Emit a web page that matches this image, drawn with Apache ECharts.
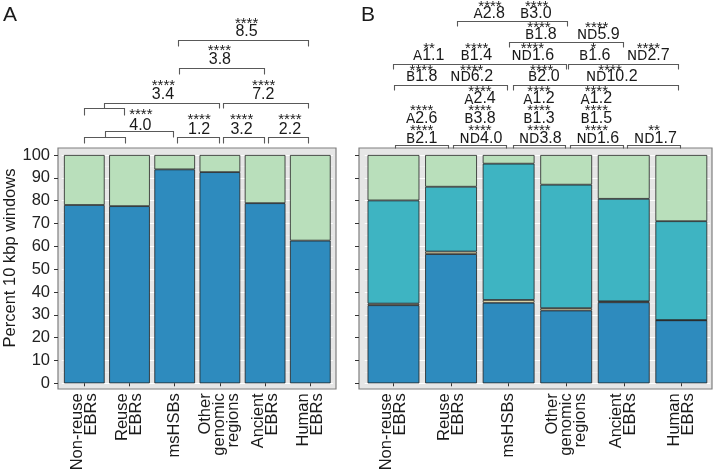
<!DOCTYPE html>
<html><head><meta charset="utf-8">
<script src="https://cdn.jsdelivr.net/npm/echarts@6/dist/echarts.min.js"></script>
<style>html,body{margin:0;padding:0;background:#fff}#c{width:714px;height:472px}</style>
</head><body><div id="c"></div>
<script>
// ---------- DATA ----------
const categories = ['Non-reuse\nEBRs', 'Reuse\nEBRs', 'msHSBs', 'Other\ngenomic\nregions', 'Ancient\nEBRs', 'Human\nEBRs'];
// Panel A
const aBlue  = [78.1, 77.6, 93.7, 92.5, 78.9, 62.5];
const aGreen = [21.9, 22.4, 6.3, 7.5, 21.1, 37.5];
// Panel B
const bBlue  = [34.2, 56.6, 35.3, 31.9, 35.5, 27.6];
const bCream = [0.7, 1.1, 1.2, 1.0, 0.4, 0.1];
const bTeal  = [45.2, 28.4, 59.7, 54.1, 44.9, 43.3];
const bGreen = [19.9, 13.9, 3.8, 13.0, 19.2, 29.0];
// Annotation texts
const labelsA = ['8.5', '3.8', '3.4', '7.2', '4.0', '1.2', '3.2', '2.2'];
const starsA  = ['****', '****', '****', '****', '****', '****', '****', '****'];
const labelsB = ['A2.8', 'B3.0', 'B1.8', 'ND5.9', 'A1.1', 'B1.4', 'ND1.6', 'B1.6', 'ND2.7',
                 'B1.8', 'ND6.2', 'B2.0', 'ND10.2', 'A2.4', 'A1.2', 'A1.2',
                 'A2.6', 'B3.8', 'B1.3', 'B1.5', 'B2.1', 'ND4.0', 'ND3.8', 'ND1.6', 'ND1.7'];
const starsB  = ['****', '****', '****', '****', '**', '****', '****', '*', '****',
                 '****', '****', '****', '****', '****', '****', '****',
                 '****', '****', '****', '****', '****', '****', '****', '****', '**'];

// ---------- LAYOUT (annotation placement: category index, axis value) ----------
const linesA = [
  [[0, 105.1], [0, 107.9], [0.9, 107.9], [0.9, 105.1]],
  [[0.45, 107.9], [0.45, 110.6], [1.97, 110.6], [1.97, 107.9]],
  [[2.06, 105.1], [2.06, 107.9], [2.97, 107.9], [2.97, 105.1]],
  [[3.06, 105.1], [3.06, 107.9], [3.97, 107.9], [3.97, 105.1]],
  [[4.06, 105.1], [4.06, 107.9], [4.96, 107.9], [4.96, 105.1]],
  [[0, 117.5], [0, 120.45], [0.88, 120.45], [0.88, 117.5]],
  [[0.44, 120.45], [0.44, 122.9], [2.98, 122.9], [2.98, 120.45]],
  [[3.06, 120.45], [3.06, 122.9], [4.96, 122.9], [4.96, 120.45]],
  [[2.1, 135.5], [2.1, 138.2], [3.97, 138.2], [3.97, 135.5]],
  [[2.08, 147.9], [2.08, 150.4], [4.96, 150.4], [4.96, 147.9]]
];
const labelPosA = [[3.59, 154.0], [3.0, 142.0], [1.74, 126.3], [3.96, 126.3], [1.24, 112.8], [2.54, 111.3], [3.48, 111.3], [4.55, 111.3]];
const starPosA  = [[3.59, 158.8], [2.99, 147.0], [1.75, 131.4], [3.97, 131.4], [1.25, 118.7], [2.54, 116.6], [3.48, 116.6], [4.55, 116.6]];

const linesB = [
  [[0.03, 103.1], [0.03, 104.4], [0.95, 104.4], [0.95, 103.1]],
  [[1.04, 103.1], [1.04, 104.4], [1.95, 104.4], [1.95, 103.1]],
  [[2.07, 103.1], [2.07, 104.4], [2.98, 104.4], [2.98, 103.1]],
  [[3.07, 103.1], [3.07, 104.4], [3.98, 104.4], [3.98, 103.1]],
  [[4.06, 103.1], [4.06, 104.4], [4.98, 104.4], [4.98, 103.1]],
  [[0.01, 128.5], [0.01, 130.5], [1.97, 130.5], [1.97, 128.5]],
  [[2.07, 128.5], [2.07, 130.5], [4.95, 130.5], [4.95, 128.5]],
  [[0.0, 137.7], [0.0, 139.7], [3.0, 139.7], [3.0, 137.7]],
  [[3.04, 137.7], [3.04, 139.7], [4.95, 139.7], [4.95, 137.7]],
  [[2.01, 147.2], [2.01, 149.6], [3.99, 149.6], [3.99, 147.2]],
  [[1.1, 156.5], [1.1, 158.8], [3.01, 158.8], [3.01, 156.5]]
];
const labelPosB = [
  [1.663, 162.1], [2.472, 162.1],
  [2.559, 152.9], [3.558, 152.9],
  [0.612, 143.5], [1.439, 143.5], [2.42, 143.5], [3.496, 143.5], [4.427, 143.5],
  [0.49, 134.3], [1.359, 134.3], [2.611, 134.3], [3.791, 134.3],
  [1.503, 124.5], [2.528, 124.5], [3.524, 124.5],
  [0.49, 115.8], [1.503, 115.8], [2.528, 115.8], [3.524, 115.8],
  [0.49, 107.1], [1.52, 107.1], [2.55, 107.1], [3.55, 107.1], [4.55, 107.1]
];
const starPosB = [
  [1.677, 166.1], [2.488, 166.1],
  [2.528, 157.2], [3.531, 157.2],
  [0.617, 147.8], [1.446, 147.8], [2.412, 147.8], [3.472, 147.8], [4.427, 147.8],
  [0.483, 138.2], [1.359, 138.2], [2.575, 138.2], [3.762, 138.2],
  [1.503, 129.1], [2.528, 129.1], [3.524, 129.1],
  [0.49, 120.5], [1.503, 120.5], [2.528, 120.5], [3.524, 120.5],
  [0.49, 112.0], [1.503, 112.0], [2.528, 112.0], [3.524, 112.0], [4.526, 112.0]
];

// ---------- STYLE ----------
const FONT = '"Liberation Sans", Arial, Helvetica, sans-serif';
const C_BLUE = '#2e8bbe', C_TEAL = '#3eb4c2', C_GREEN = '#b9dfbb', C_CREAM = '#fbf3c0';
const TXT = '#1a1a1a';

function richText(s) {
  const m = s.match(/^([A-Z]+)(.*)$/);
  return m ? '{s|' + m[1] + '}{d|' + m[2] + '}' : '{d|' + s + '}';
}
const RICH = {
  s: { font: '13.5px "DejaVu Sans", sans-serif', fontSize: 13.5, fontFamily: '"DejaVu Sans", sans-serif', verticalAlign: 'bottom', fill: TXT, color: TXT },
  d: { font: '16px ' + FONT, fontSize: 16, fontFamily: FONT, verticalAlign: 'bottom', fill: TXT, color: TXT }
};

function makeAnno(lines, labels, labelPos, stars, starPos) {
  return function (params, api) {
    const o = api.coord([0, 0]);
    const t = api.coord([0, 100]);
    const b1 = api.coord([1, 0]);
    const band = b1[0] - o[0];
    const unit = (o[1] - t[1]) / 100;
    const X = i => o[0] + i * band;
    const Y = v => o[1] - v * unit;
    const ch = [];
    lines.forEach(pts => ch.push({
      type: 'polyline', silent: true,
      shape: { points: pts.map(p => [Math.round(X(p[0])) + 0.5, Math.round(Y(p[1])) + 0.5]) },
      style: { stroke: '#595959', lineWidth: 1.1, fill: 'none' }
    }));
    labels.forEach((s, k) => ch.push({
      type: 'text', silent: true,
      style: { text: richText(s), rich: RICH, x: X(labelPos[k][0]), y: Y(labelPos[k][1]),
               align: 'center', verticalAlign: 'middle', textAlign: 'center', textVerticalAlign: 'middle',
               fill: TXT, font: '16px ' + FONT }
    }));
    stars.forEach((s, k) => ch.push({
      type: 'text', silent: true,
      style: { text: s, x: X(starPos[k][0]), y: Y(starPos[k][1]) + 3,
               align: 'center', verticalAlign: 'middle', textAlign: 'center', textVerticalAlign: 'middle',
               fill: TXT, font: '15px ' + FONT }
    }));
    return { type: 'group', children: ch };
  };
}

const chart = echarts.init(document.getElementById('c'), null, { renderer: 'canvas' });

function yAxisCfg(gi, showLabels, offset) {
  return {
    type: 'value', gridIndex: gi, min: 0, max: 100, interval: 10, offset: offset,
    axisLine: { show: false },
    axisTick: { show: true, length: 4, lineStyle: { color: '#333', width: 1 } },
    axisLabel: { show: showLabels, fontSize: 16.5, fontFamily: FONT, color: '#222', margin: 8 },
    splitLine: { show: true, lineStyle: { color: '#ffffff', width: 1.1 } },
    minorTick: { show: false, splitNumber: 2 },
    minorSplitLine: { show: true, lineStyle: { color: '#f4f4f4', width: 0.6 } }
  };
}
function xAxisCfg(gi) {
  return {
    type: 'category', gridIndex: gi, data: categories, offset: 6,
    axisLine: { show: false },
    axisTick: { show: true, alignWithLabel: true, length: 3, lineStyle: { color: '#333', width: 1 } },
    axisLabel: { interval: 0, rotate: 90, fontSize: 16.5, lineHeight: 14, fontFamily: FONT, color: TXT, margin: 4 },
    splitLine: { show: false }
  };
}
function bar(name, data, color, xi, stack) {
  return {
    type: 'bar', name: name, xAxisIndex: xi, yAxisIndex: xi, stack: stack, data: data,
    barWidth: '90%', itemStyle: { color: color, borderColor: '#222', borderWidth: 0.8 },
    emphasis: { disabled: true }, silent: true
  };
}

const option = {
  animation: false,
  backgroundColor: '#fff',
  grid: [
    { left: 61.7, top: 155, width: 271.2, height: 228.3, containLabel: false, outerBoundsMode: 'none' },
    { left: 364.7, top: 155, width: 345.4, height: 228.3, containLabel: false, outerBoundsMode: 'none' }
  ],
  xAxis: [xAxisCfg(0), xAxisCfg(1)],
  yAxis: [yAxisCfg(0, true, 3.7), yAxisCfg(1, false, 5.7)],
  graphic: [
    { type: 'rect', z: -10, silent: true, shape: { x: 58, y: 148, width: 278, height: 241 },
      style: { fill: '#e6e6e6', stroke: '#7f7f7f', lineWidth: 1.2 } },
    { type: 'rect', z: -10, silent: true, shape: { x: 359, y: 148, width: 353, height: 241 },
      style: { fill: '#e6e6e6', stroke: '#7f7f7f', lineWidth: 1.2 } },
    { type: 'text', x: 3, y: 15, silent: true,
      style: { text: 'A', font: '21px ' + FONT, fill: TXT, align: 'left', verticalAlign: 'middle', textAlign: 'left', textVerticalAlign: 'middle' } },
    { type: 'text', x: 361, y: 15, silent: true,
      style: { text: 'B', font: '21px ' + FONT, fill: TXT, align: 'left', verticalAlign: 'middle', textAlign: 'left', textVerticalAlign: 'middle' } },
    { type: 'text', x: 10, y: 258, rotation: Math.PI / 2, silent: true,
      style: { text: 'Percent 10 kbp windows', font: '16.5px ' + FONT, fill: TXT, align: 'center', verticalAlign: 'middle', textAlign: 'center', textVerticalAlign: 'middle' } }
  ],
  series: [
    bar('A blue', aBlue, C_BLUE, 0, 'a'),
    bar('A green', aGreen, C_GREEN, 0, 'a'),
    bar('B blue', bBlue, C_BLUE, 1, 'b'),
    bar('B cream', bCream, C_CREAM, 1, 'b'),
    bar('B teal', bTeal, C_TEAL, 1, 'b'),
    bar('B green', bGreen, C_GREEN, 1, 'b'),
    { type: 'custom', xAxisIndex: 0, yAxisIndex: 0, clip: false, silent: true, z: 5,
      data: [[0, 0]], renderItem: makeAnno(linesA, labelsA, labelPosA, starsA, starPosA) },
    { type: 'custom', xAxisIndex: 1, yAxisIndex: 1, clip: false, silent: true, z: 5,
      data: [[0, 0]], renderItem: makeAnno(linesB, labelsB, labelPosB, starsB, starPosB) }
  ]
};
chart.setOption(option);
</script></body></html>
